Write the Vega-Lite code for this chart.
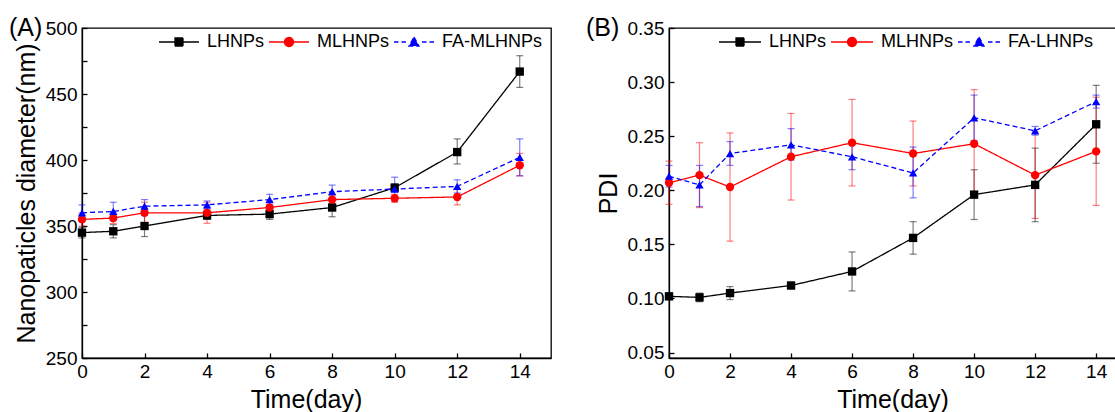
{
  "$schema": "https://vega.github.io/schema/vega-lite/v6.json",
  "padding": {"left": 8, "top": 15, "right": 0, "bottom": 0},
  "spacing": 33,
  "background": "white",
  "config": {
    "font": "Liberation Sans",
    "view": {"stroke": "#000", "strokeWidth": 1.3},
    "axis": {
      "domainColor": "#000", "domainWidth": 1.3,
      "tickColor": "#000", "tickWidth": 1.3, "tickSize": -5,
      "labelFont": "Liberation Sans", "labelFontSize": 19, "labelColor": "#000",
      "titleFont": "Liberation Sans", "titleFontSize": 25, "titleFontWeight": "normal", "titleColor": "#000",
      "grid": false
    },
    "axisX": {"labelPadding": 9, "titlePadding": 6, "labelFlush": false},
    "axisY": {"labelPadding": 10, "titlePadding": 6},
    "title": {"font": "Liberation Sans", "fontSize": 25, "fontWeight": "normal", "color": "#000"},
    "legend": {"symbolOpacity": 1, "symbolStrokeWidth": 1.3}
  },
  "datasets": {
    "dA": [
      {"series": "LHNPs", "day": 0, "v": 345, "lo": 341, "hi": 349},
      {"series": "LHNPs", "day": 1, "v": 346, "lo": 341, "hi": 351},
      {"series": "LHNPs", "day": 2, "v": 350, "lo": 342, "hi": 358},
      {"series": "LHNPs", "day": 4, "v": 358, "lo": 355, "hi": 361},
      {"series": "LHNPs", "day": 6, "v": 359, "lo": 355, "hi": 363},
      {"series": "LHNPs", "day": 8, "v": 364, "lo": 357, "hi": 371},
      {"series": "LHNPs", "day": 10, "v": 379, "lo": 376, "hi": 382},
      {"series": "LHNPs", "day": 12, "v": 406, "lo": 397, "hi": 416},
      {"series": "LHNPs", "day": 14, "v": 467, "lo": 455, "hi": 479},
      {"series": "MLHNPs", "day": 0, "v": 355, "lo": 350, "hi": 360},
      {"series": "MLHNPs", "day": 1, "v": 356, "lo": 352, "hi": 360},
      {"series": "MLHNPs", "day": 2, "v": 360, "lo": 352, "hi": 368},
      {"series": "MLHNPs", "day": 4, "v": 360, "lo": 352, "hi": 368},
      {"series": "MLHNPs", "day": 6, "v": 364, "lo": 359, "hi": 369},
      {"series": "MLHNPs", "day": 8, "v": 370, "lo": 367, "hi": 373},
      {"series": "MLHNPs", "day": 10, "v": 371, "lo": 368, "hi": 374},
      {"series": "MLHNPs", "day": 12, "v": 372, "lo": 366, "hi": 378},
      {"series": "MLHNPs", "day": 14, "v": 396, "lo": 388, "hi": 405},
      {"series": "FA-MLHNPs", "day": 0, "v": 360, "lo": 354, "hi": 366},
      {"series": "FA-MLHNPs", "day": 1, "v": 361, "lo": 354, "hi": 368},
      {"series": "FA-MLHNPs", "day": 2, "v": 365, "lo": 360, "hi": 370},
      {"series": "FA-MLHNPs", "day": 4, "v": 366, "lo": 363, "hi": 369},
      {"series": "FA-MLHNPs", "day": 6, "v": 370, "lo": 366, "hi": 374},
      {"series": "FA-MLHNPs", "day": 8, "v": 376, "lo": 371, "hi": 381},
      {"series": "FA-MLHNPs", "day": 10, "v": 378, "lo": 369, "hi": 387},
      {"series": "FA-MLHNPs", "day": 12, "v": 380, "lo": 375, "hi": 385},
      {"series": "FA-MLHNPs", "day": 14, "v": 402, "lo": 388, "hi": 416}
    ],
    "dB": [
      {"series": "LHNPs", "day": 0, "v": 0.102, "lo": 0.099, "hi": 0.105},
      {"series": "LHNPs", "day": 1, "v": 0.101, "lo": 0.097, "hi": 0.105},
      {"series": "LHNPs", "day": 2, "v": 0.105, "lo": 0.099, "hi": 0.111},
      {"series": "LHNPs", "day": 4, "v": 0.112, "lo": 0.109, "hi": 0.115},
      {"series": "LHNPs", "day": 6, "v": 0.125, "lo": 0.107, "hi": 0.143},
      {"series": "LHNPs", "day": 8, "v": 0.156, "lo": 0.141, "hi": 0.171},
      {"series": "LHNPs", "day": 10, "v": 0.196, "lo": 0.173, "hi": 0.219},
      {"series": "LHNPs", "day": 12, "v": 0.205, "lo": 0.171, "hi": 0.239},
      {"series": "LHNPs", "day": 14, "v": 0.261, "lo": 0.225, "hi": 0.297},
      {"series": "MLHNPs", "day": 0, "v": 0.207, "lo": 0.187, "hi": 0.227},
      {"series": "MLHNPs", "day": 1, "v": 0.214, "lo": 0.184, "hi": 0.244},
      {"series": "MLHNPs", "day": 2, "v": 0.203, "lo": 0.153, "hi": 0.253},
      {"series": "MLHNPs", "day": 4, "v": 0.231, "lo": 0.191, "hi": 0.271},
      {"series": "MLHNPs", "day": 6, "v": 0.244, "lo": 0.204, "hi": 0.284},
      {"series": "MLHNPs", "day": 8, "v": 0.234, "lo": 0.204, "hi": 0.264},
      {"series": "MLHNPs", "day": 10, "v": 0.243, "lo": 0.193, "hi": 0.293},
      {"series": "MLHNPs", "day": 12, "v": 0.214, "lo": 0.174, "hi": 0.254},
      {"series": "MLHNPs", "day": 14, "v": 0.236, "lo": 0.186, "hi": 0.286},
      {"series": "FA-LHNPs", "day": 0, "v": 0.213, "lo": 0.203, "hi": 0.223},
      {"series": "FA-LHNPs", "day": 1, "v": 0.205, "lo": 0.185, "hi": 0.223},
      {"series": "FA-LHNPs", "day": 2, "v": 0.234, "lo": 0.223, "hi": 0.245},
      {"series": "FA-LHNPs", "day": 4, "v": 0.242, "lo": 0.228, "hi": 0.257},
      {"series": "FA-LHNPs", "day": 6, "v": 0.231, "lo": 0.219, "hi": 0.243},
      {"series": "FA-LHNPs", "day": 8, "v": 0.216, "lo": 0.193, "hi": 0.240},
      {"series": "FA-LHNPs", "day": 10, "v": 0.267, "lo": 0.246, "hi": 0.288},
      {"series": "FA-LHNPs", "day": 12, "v": 0.255, "lo": 0.251, "hi": 0.259},
      {"series": "FA-LHNPs", "day": 14, "v": 0.282, "lo": 0.276, "hi": 0.288}
    ]
  },
  "resolve": {
    "scale": {"color": "independent", "shape": "independent", "strokeDash": "independent"},
    "legend": {"color": "independent", "shape": "independent", "strokeDash": "independent"}
  },
  "hconcat": [
    {
      "width": 469,
      "height": 330,
      "data": {"name": "dA"},
      "title": {"text": "(A)", "anchor": "start", "frame": "group", "orient": "top", "offset": -42, "baseline": "alphabetic", "dx": -73},
      "encoding": {
        "x": {"field": "day", "type": "quantitative", "title": "Time(day)", "scale": {"domain": [0, 15], "nice": false, "zero": false}, "axis": {"values": [0, 2, 4, 6, 8, 10, 12, 14], "format": "d", "titleX": 224}},
        "y": {"field": "v", "type": "quantitative", "title": "Nanopaticles diameter(nm)", "scale": {"domain": [250, 500], "nice": false, "zero": false}, "axis": {"values": [250, 275, 300, 325, 350, 375, 400, 425, 450, 475, 500], "labelExpr": "datum.value % 50 === 0 ? datum.label : ''", "format": "d"}}
      },
      "layer": [
        {
          "mark": {"type": "errorbar", "ticks": true, "size": 7, "thickness": 1.2, "opacity": 0.5},
          "encoding": {
            "y": {"field": "lo", "type": "quantitative", "title": "Nanopaticles diameter(nm)"},
            "y2": {"field": "hi"},
            "color": {"field": "series", "type": "nominal", "scale": {"domain": ["LHNPs", "MLHNPs", "FA-MLHNPs"], "range": ["#000000", "#ff0000", "#0000ff"]}}
          }
        },
        {
          "mark": {"type": "line", "strokeWidth": 1.3},
          "encoding": {
            "color": {"field": "series", "type": "nominal", "scale": {"domain": ["LHNPs", "MLHNPs", "FA-MLHNPs"], "range": ["#000000", "#ff0000", "#0000ff"]}},
            "strokeDash": {"field": "series", "type": "nominal", "scale": {"domain": ["LHNPs", "MLHNPs", "FA-MLHNPs"], "range": [[1, 0], [1, 0], [5, 3]]}, "legend": null}
          }
        },
        {
          "transform": [{"filter": "datum.series === 'LHNPs'"}],
          "mark": {"type": "point", "shape": "square", "filled": true, "opacity": 1, "size": 70, "color": "#000000"}
        },
        {
          "transform": [{"filter": "datum.series === 'MLHNPs'"}],
          "mark": {"type": "point", "shape": "circle", "filled": true, "opacity": 1, "size": 70, "color": "#ff0000"}
        },
        {
          "transform": [{"filter": "datum.series === 'FA-MLHNPs'"}],
          "mark": {"type": "point", "shape": "triangle-up", "filled": true, "opacity": 1, "size": 70, "color": "#0000ff"}
        },
        {
          "mark": {"type": "point", "filled": true, "opacity": 0},
          "encoding": {
            "color": {
              "field": "series", "type": "nominal",
              "scale": {"domain": ["LHNPs", "MLHNPs", "FA-MLHNPs"], "range": ["#000000", "#ff0000", "#0000ff"]},
              "legend": {"orient": "none", "legendX": 76, "legendY": 3, "direction": "horizontal", "title": null, "labelFontSize": 18, "labelFont": "Liberation Sans", "labelColor": "#000", "labelBaseline": "middle", "symbolSize": 400, "symbolOpacity": 1, "symbolStrokeWidth": 1.3, "labelOffset": 27, "columnPadding": 1, "padding": 0}
            },
            "shape": {
              "field": "series", "type": "nominal",
              "scale": {"domain": ["LHNPs", "MLHNPs", "FA-MLHNPs"], "range": ["M-1,0H3M0.6,-0.4H1.4V0.4H0.6Z", "M-1,0H3M1.45,0A0.45,0.45 0 1,1 0.55,0A0.45,0.45 0 1,1 1.45,0Z", "M-1,0H-0.55M-0.25,0H0.2M1.8,0H2.25M2.55,0H3M1,-0.5L1.5,0.4H0.5Z"]},
              "legend": {"orient": "none", "legendX": 76, "legendY": 3, "direction": "horizontal", "title": null, "labelFontSize": 18, "labelFont": "Liberation Sans", "labelColor": "#000", "labelBaseline": "middle", "symbolSize": 400, "symbolOpacity": 1, "symbolStrokeWidth": 1.3, "labelOffset": 27, "columnPadding": 1, "padding": 0}
            }
          }
        }
      ]
    },
    {
      "width": 447,
      "height": 330,
      "data": {"name": "dB"},
      "title": {"text": "(B)", "anchor": "start", "frame": "group", "orient": "top", "offset": -42, "baseline": "alphabetic", "dx": -83},
      "encoding": {
        "x": {"field": "day", "type": "quantitative", "title": "Time(day)", "scale": {"domain": [0, 14.65], "nice": false, "zero": false}, "axis": {"values": [0, 2, 4, 6, 8, 10, 12, 14], "format": "d"}},
        "y": {"field": "v", "type": "quantitative", "title": "PDI", "scale": {"domain": [0.045, 0.35], "nice": false, "zero": false}, "axis": {"values": [0.05, 0.1, 0.15, 0.2, 0.25, 0.3, 0.35], "format": ".2f"}}
      },
      "layer": [
        {
          "mark": {"type": "errorbar", "ticks": true, "size": 7, "thickness": 1.2, "opacity": 0.5},
          "encoding": {
            "y": {"field": "lo", "type": "quantitative", "title": "PDI"},
            "y2": {"field": "hi"},
            "color": {"field": "series", "type": "nominal", "scale": {"domain": ["LHNPs", "MLHNPs", "FA-LHNPs"], "range": ["#000000", "#ff0000", "#0000ff"]}}
          }
        },
        {
          "mark": {"type": "line", "strokeWidth": 1.3},
          "encoding": {
            "color": {"field": "series", "type": "nominal", "scale": {"domain": ["LHNPs", "MLHNPs", "FA-LHNPs"], "range": ["#000000", "#ff0000", "#0000ff"]}},
            "strokeDash": {"field": "series", "type": "nominal", "scale": {"domain": ["LHNPs", "MLHNPs", "FA-LHNPs"], "range": [[1, 0], [1, 0], [5, 3]]}, "legend": null}
          }
        },
        {
          "transform": [{"filter": "datum.series === 'LHNPs'"}],
          "mark": {"type": "point", "shape": "square", "filled": true, "opacity": 1, "size": 70, "color": "#000000"}
        },
        {
          "transform": [{"filter": "datum.series === 'MLHNPs'"}],
          "mark": {"type": "point", "shape": "circle", "filled": true, "opacity": 1, "size": 70, "color": "#ff0000"}
        },
        {
          "transform": [{"filter": "datum.series === 'FA-LHNPs'"}],
          "mark": {"type": "point", "shape": "triangle-up", "filled": true, "opacity": 1, "size": 70, "color": "#0000ff"}
        },
        {
          "mark": {"type": "point", "filled": true, "opacity": 0},
          "encoding": {
            "color": {
              "field": "series", "type": "nominal",
              "scale": {"domain": ["LHNPs", "MLHNPs", "FA-LHNPs"], "range": ["#000000", "#ff0000", "#0000ff"]},
              "legend": {"orient": "none", "legendX": 49, "legendY": 3, "direction": "horizontal", "title": null, "labelFontSize": 18, "labelFont": "Liberation Sans", "labelColor": "#000", "labelBaseline": "middle", "symbolSize": 400, "symbolOpacity": 1, "symbolStrokeWidth": 1.3, "labelOffset": 29, "columnPadding": 1, "padding": 0}
            },
            "shape": {
              "field": "series", "type": "nominal",
              "scale": {"domain": ["LHNPs", "MLHNPs", "FA-LHNPs"], "range": ["M-1,0H3.2M0.7,-0.4H1.5V0.4H0.7Z", "M-1,0H3.2M1.55,0A0.45,0.45 0 1,1 0.65,0A0.45,0.45 0 1,1 1.55,0Z", "M-1,0H-0.55M-0.25,0H0.2M2,0H2.45M2.75,0H3.2M1.1,-0.5L1.6,0.4H0.6Z"]},
              "legend": {"orient": "none", "legendX": 49, "legendY": 3, "direction": "horizontal", "title": null, "labelFontSize": 18, "labelFont": "Liberation Sans", "labelColor": "#000", "labelBaseline": "middle", "symbolSize": 400, "symbolOpacity": 1, "symbolStrokeWidth": 1.3, "labelOffset": 29, "columnPadding": 1, "padding": 0}
            }
          }
        }
      ]
    }
  ]
}
